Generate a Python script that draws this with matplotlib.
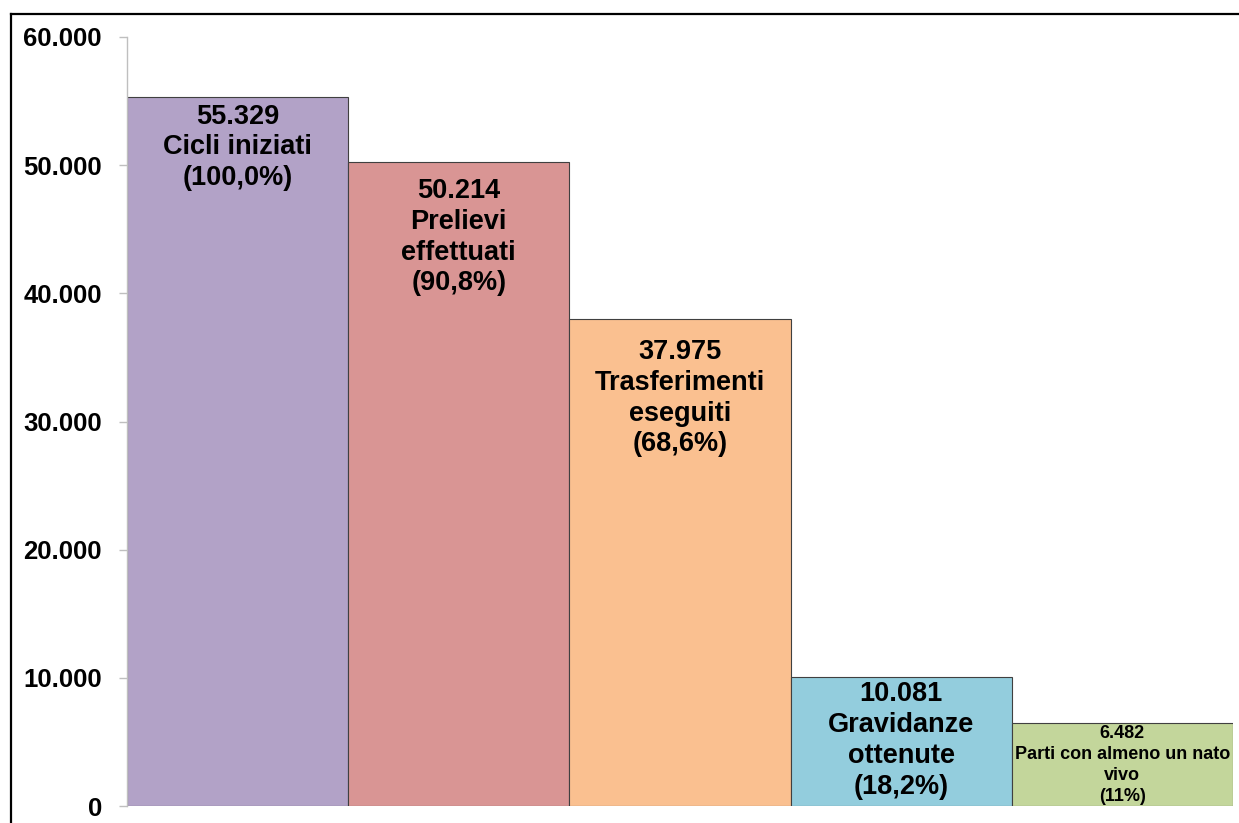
import numpy as np
import matplotlib.pyplot as plt
from matplotlib.lines import Line2D

# data
values = [55329, 50214, 37975, 10081, 6482]
labels = ["55.329\nCicli iniziati\n(100,0%)",
          "50.214\nPrelievi\neffettuati\n(90,8%)",
          "37.975\nTrasferimenti\neseguiti\n(68,6%)",
          "10.081\nGravidanze\nottenute\n(18,2%)",
          "6.482\nParti con almeno un nato\nvivo\n(11%)"]
colors = ["#B2A2C7", "#D99594", "#FAC090", "#93CDDD", "#C3D69B"]
yticks = [0, 10000, 20000, 30000, 40000, 50000, 60000]
ytick_labels = ["0", "10.000", "20.000", "30.000", "40.000", "50.000", "60.000"]

# label placement (points below bar top) and font sizes
label_offsets = [5, 11.5, 14.5, 3, 1.5]
label_sizes = [19.5, 19.5, 19.5, 19.5, 13]
label_spacing = [1.23, 1.23, 1.23, 1.25, 1.3]

plt.rcParams['font.family'] = ['Liberation Sans', 'DejaVu Sans']

fig = plt.figure(figsize=(12.39, 8.23), dpi=100)
ax = fig.add_axes([127/1239, 1-806/823, (1233-127)/1239, (806-37)/823])

x = np.arange(len(values))
ax.bar(x, values, width=1.0, color=colors, edgecolor="#404040", linewidth=0.8)

for i in range(len(values)):
    ax.annotate(labels[i], xy=(x[i], values[i]), xytext=(0, -label_offsets[i]),
                textcoords="offset points", ha="center", va="top",
                fontsize=label_sizes[i], fontweight="bold",
                linespacing=label_spacing[i])

ax.set_xlim(-0.5, 4.5)
ax.set_ylim(0, 60000)
ax.set_yticks(yticks)
ax.set_yticklabels(ytick_labels, fontsize=18.5, fontweight="bold")
ax.set_xticks([])
ax.tick_params(axis="y", length=6, width=1, color="#BFBFBF", pad=12)

for s in ["top", "right", "bottom"]:
    ax.spines[s].set_visible(False)
ax.spines["left"].set_color("#BFBFBF")
ax.spines["left"].set_linewidth(1)

# outer frame (top and left edges visible)
x0 = 10.5/1239
y0 = 1 - 13.5/823
fig.add_artist(Line2D([x0, 1.0], [y0, y0], transform=fig.transFigure,
                      color="black", linewidth=1.6))
fig.add_artist(Line2D([x0, x0], [y0, 0.0], transform=fig.transFigure,
                      color="black", linewidth=1.6))

fig.savefig("out.png", dpi=100)
